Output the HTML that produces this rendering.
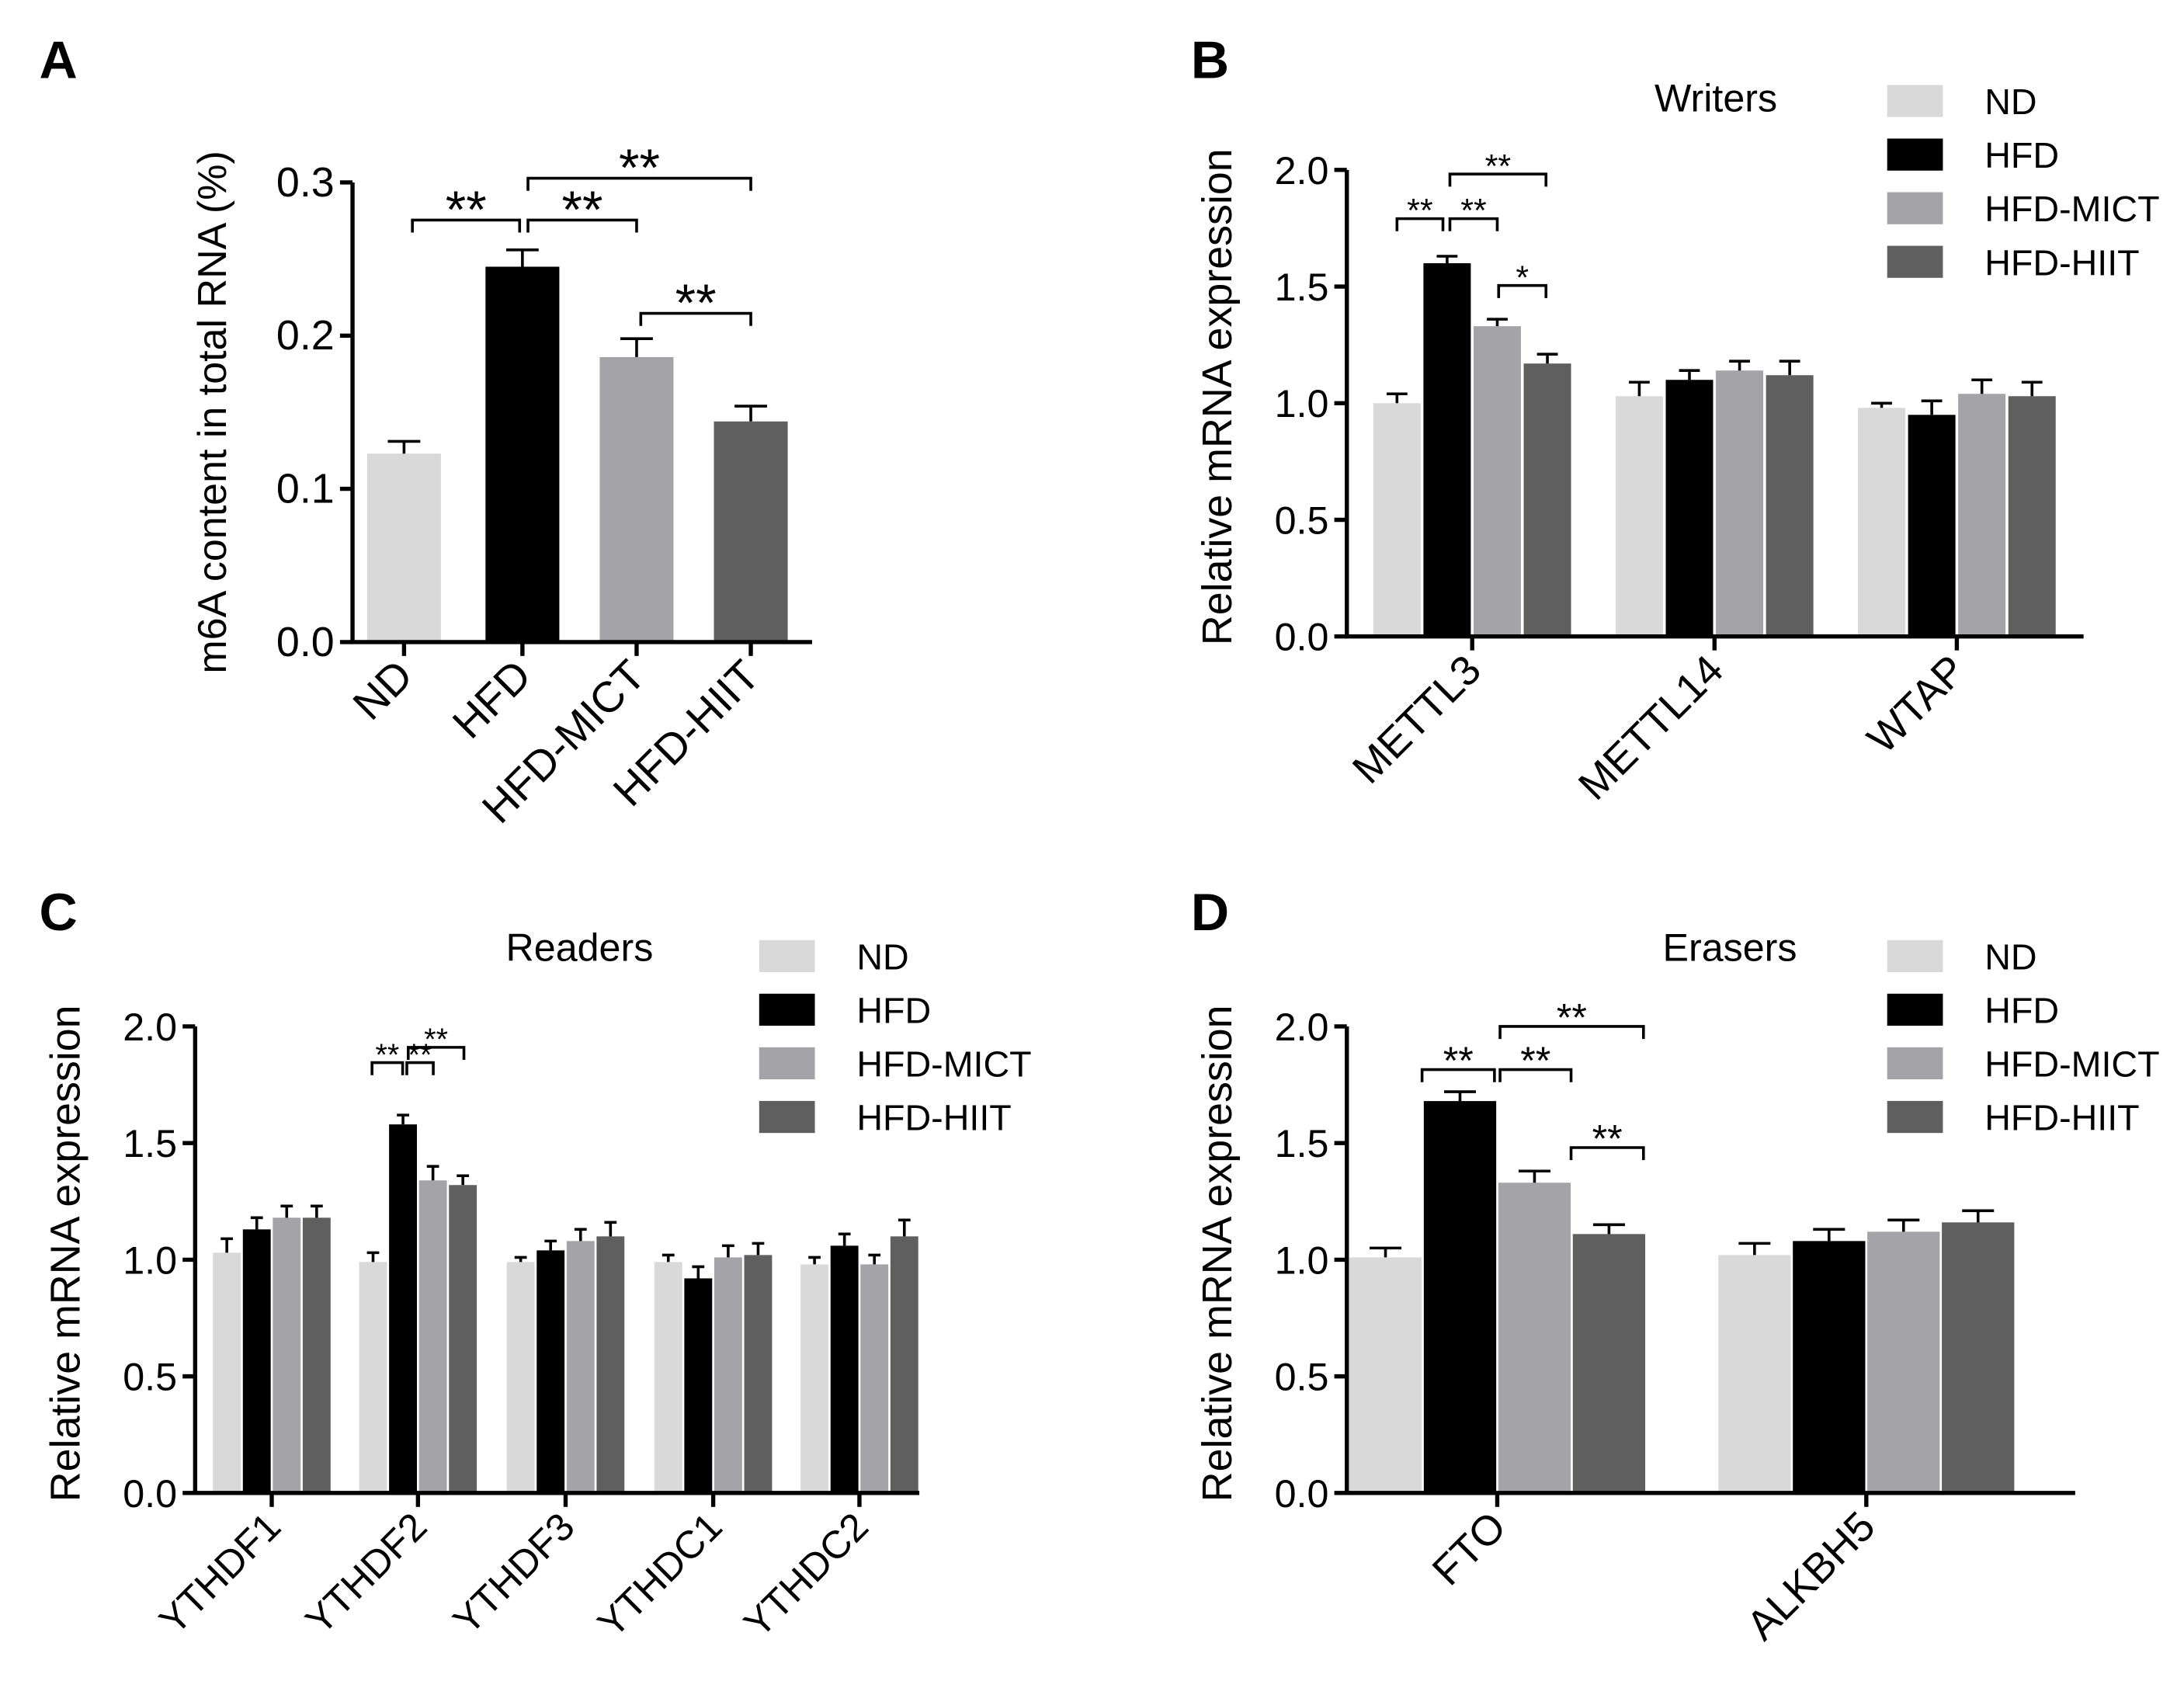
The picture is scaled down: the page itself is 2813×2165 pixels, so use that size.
<!DOCTYPE html>
<html><head><meta charset="utf-8"><style>
html,body{margin:0;padding:0;background:#fff}
svg{display:block;font-family:"Liberation Sans",Arial,sans-serif}
</style></head><body>
<svg id="fig" width="2813" height="2165" viewBox="0 0 1568 1207" xmlns="http://www.w3.org/2000/svg">
<text x="28" y="56" font-size="38" font-weight="bold">A</text>
<text x="855" y="56" font-size="38" font-weight="bold">B</text>
<text x="28" y="668" font-size="38" font-weight="bold">C</text>
<text x="855" y="668" font-size="38" font-weight="bold">D</text>
</svg>
<script>
const colors=['#d9d9d9','#000000','#a3a3a8','#5f5f5f'];
const groupNames=['ND','HFD','HFD-MICT','HFD-HIIT'];
// Panel A
const aCats=['ND','HFD','HFD-MICT','HFD-HIIT'];
const aVals=[0.123,0.245,0.186,0.144];
const aErr=[0.008,0.011,0.012,0.010];
const aTicks=['0.0','0.1','0.2','0.3'];
// Panel B
const bCats=['METTL3','METTL14','WTAP'];
const bVals=[[1.00,1.60,1.33,1.17],[1.03,1.10,1.14,1.12],[0.98,0.95,1.04,1.03]];
const bErr=[[0.04,0.03,0.03,0.04],[0.06,0.04,0.04,0.06],[0.02,0.06,0.06,0.06]];
// Panel C
const cCats=['YTHDF1','YTHDF2','YTHDF3','YTHDC1','YTHDC2'];
const cVals=[[1.03,1.13,1.18,1.18],[0.99,1.58,1.34,1.32],[0.99,1.04,1.08,1.10],[0.99,0.92,1.01,1.02],[0.98,1.06,0.98,1.10]];
const cErr=[[0.06,0.05,0.05,0.05],[0.04,0.04,0.06,0.04],[0.02,0.04,0.05,0.06],[0.03,0.05,0.05,0.05],[0.03,0.05,0.04,0.07]];
// Panel D
const dCats=['FTO','ALKBH5'];
const dVals=[[1.01,1.68,1.33,1.11],[1.02,1.08,1.12,1.16]];
const dErr=[[0.04,0.04,0.05,0.04],[0.05,0.05,0.05,0.05]];
const mrnaTicks=['0.0','0.5','1.0','1.5','2.0'];

const svg=document.getElementById('fig');
const NS='http://www.w3.org/2000/svg';
function mk(tag,attrs,parent){const e=document.createElementNS(NS,tag);for(const k in attrs)e.setAttribute(k,attrs[k]);(parent||svg).appendChild(e);return e;}

function panel(p){
  const g=mk('g',{});
  
  
  const y=v=>p.y0-(v/p.ymax)*(p.y0-p.ytop);
  p.vals.forEach((grp,gi)=>{
    const arr=Array.isArray(grp)?grp:[grp];
    const errs=Array.isArray(p.errs[gi])?p.errs[gi]:[p.errs[gi]];
    arr.forEach((v,si)=>{
      const cx=p.barX(gi,si);
      const ci=Array.isArray(grp)?si:gi;
      const r=mk('rect',{x:cx-p.bw/2,y:y(v),width:p.bw,height:p.y0-y(v),fill:colors[ci]},g);
      
      
      const ye=y(v+errs[si]);
      const e=mk('path',{d:`M${cx} ${y(v)}V${ye}M${cx-p.bw*0.22} ${ye}H${cx+p.bw*0.22}`,stroke:'#000',fill:'none','stroke-width':2},g);
      
      
    });
  });
  const ax=mk('path',{d:`M${p.x0} ${p.ytop}V${p.y0}H${p.xend}`,stroke:'#000','stroke-width':3,fill:'none'},g);
  
  
  p.ticks.forEach(t=>{
    const yy=y(parseFloat(t));
    mk('line',{x1:p.x0-9,x2:p.x0,y1:yy,y2:yy,stroke:'#000','stroke-width':3},g);
    const tx=mk('text',{x:p.x0-13,y:yy+10,'font-size':p.tfs,'text-anchor':'end'},g);
    tx.textContent=t;
    
    
  });
  p.cats.forEach((c,gi)=>{
    const cx=p.catX(gi);
    mk('line',{x1:cx,x2:cx,y1:p.y0,y2:p.y0+10,stroke:'#000','stroke-width':3},g);
    const tx=mk('text',{x:cx+8,y:p.y0+26,'font-size':p.xfs,'text-anchor':'end',transform:`rotate(-45 ${cx+8} ${p.y0+26})`},g);
    tx.textContent=c;
    
    
  });
  const yt=mk('text',{x:p.ytx,y:p.yty,'font-size':p.yfs,'text-anchor':'middle',transform:`rotate(-90 ${p.ytx} ${p.yty})`},g);
  yt.textContent=p.ytitle;
  
  
  if(p.title){
    const tt=mk('text',{x:p.title[1],y:p.title[2],'font-size':28,'text-anchor':'middle'},g);
    tt.textContent=p.title[0];
    
    
  }
  if(p.legend){
    groupNames.forEach((n,i)=>{
      const ly=p.legend[1]+i*38.5;
      const s=mk('rect',{x:p.legend[0],y:ly-11,width:40,height:23,fill:colors[i]},g);
      
      
      const t=mk('text',{x:p.legend[0]+70,y:ly+10,'font-size':26},g);
      t.textContent=n;
      
      
    });
  }
  (p.brackets||[]).forEach(b=>{
    const [x1,x2,by,lab,fs]=b;
    const br=mk('path',{d:`M${x1} ${by+9}V${by}H${x2}V${by+9}`,stroke:'#000','stroke-width':2,fill:'none'},g);
    
    
    const t=mk('text',{x:(x1+x2)/2,y:by-3+fs*0.22,'font-size':fs,'text-anchor':'middle'},g);
    t.textContent=lab;
    
    
  });
}

const aX=[290,375,457,539];
panel({name:'panel-a-chart',cats:aCats,vals:aVals,errs:aErr,ticks:aTicks,ymax:0.3,x0:253,xend:583,y0:461,ytop:131,bw:53,
  barX:(g)=>aX[g],catX:(g)=>aX[g],tfs:30,xfs:31,yfs:29,ytitle:'m6A content in total RNA (%)',ytx:162,yty:296,
  brackets:[[296,373,158,'**',38],[379,457,158,'**',38],[379,539,128,'**',38],[460,539,225,'**',38]]});
const bG=[1057,1231,1405];
panel({name:'panel-b-writers-chart',cats:bCats,vals:bVals,errs:bErr,ticks:mrnaTicks,ymax:2,x0:967,xend:1496,y0:457,ytop:122,bw:34,
  barX:(g,s)=>bG[g]+(s-1.5)*36,catX:(g)=>bG[g],tfs:28,xfs:30,yfs:30,ytitle:'Relative mRNA expression',ytx:884,yty:285,
  title:['Writers',1232,80],legend:[1355,72],
  brackets:[[1003,1036,157,'**',24],[1041,1075,157,'**',24],[1041,1110,125,'**',24],[1076,1110,205,'*',24]]});
const cG=[195,300,406,512,617];
panel({name:'panel-c-readers-chart',cats:cCats,vals:cVals,errs:cErr,ticks:mrnaTicks,ymax:2,x0:140,xend:660,y0:1072,ytop:737,bw:20,
  barX:(g,s)=>cG[g]+(s-1.5)*21.5,catX:(g)=>cG[g],tfs:28,xfs:28,yfs:30,ytitle:'Relative mRNA expression',ytx:57,yty:900,
  title:['Readers',416,690],legend:[545,686],
  brackets:[[267,289,763,'**',22],[292,311,763,'**',22],[293,333,752,'**',22]]});
const dG=[1075,1340];
panel({name:'panel-d-erasers-chart',cats:dCats,vals:dVals,errs:dErr,ticks:mrnaTicks,ymax:2,x0:967,xend:1490,y0:1072,ytop:737,bw:52,
  barX:(g,s)=>dG[g]+(s-1.5)*53.5,catX:(g)=>dG[g],tfs:28,xfs:30,yfs:30,ytitle:'Relative mRNA expression',ytx:884,yty:900,
  title:['Erasers',1242,690],legend:[1355,686],
  brackets:[[1021,1073,768,'**',28],[1077,1128,768,'**',28],[1077,1180,737,'**',28],[1128,1180,824,'**',28]]});
</script>
</body></html>
